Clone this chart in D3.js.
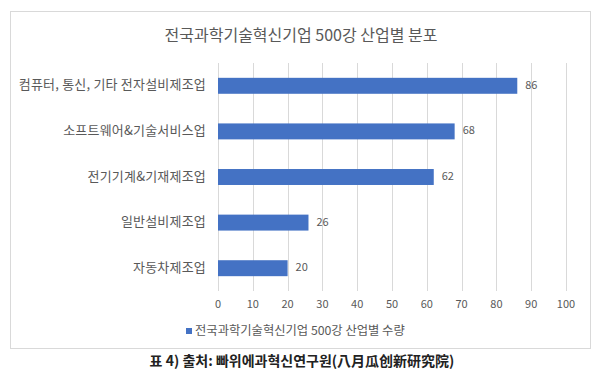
<!DOCTYPE html>
<html>
<head>
<meta charset="utf-8">
<script src="https://cdn.jsdelivr.net/npm/d3@7"></script>
<style>
  body { margin: 0; background: #fff; }
  svg text { font-family: "Noto Sans CJK KR", "Noto Sans", sans-serif; }
</style>
</head>
<body>
<svg id="vis"></svg>
<script>
// data
var categories = ["컴퓨터, 통신, 기타 전자설비제조업", "소프트웨어&기술서비스업", "전기기계&기재제조업", "일반설비제조업", "자동차제조업"];
var counts = [86, 68, 62, 26, 20];
var xTicks = [0, 10, 20, 30, 40, 50, 60, 70, 80, 90, 100];
var title = "전국과학기술혁신기업 500강 산업별 분포";
var seriesName = "전국과학기술혁신기업 500강 산업별 수량";
var caption = "표 4) 출처: 빠위에과혁신연구원(八月瓜创新研究院)";

var W = 602, H = 385;
var grey = "#595959", barColor = "#4472C4";

var svg = d3.select("#vis").attr("width", W).attr("height", H);

// chart frame
svg.append("rect")
  .attr("x", 10.5).attr("y", 11.5)
  .attr("width", 580).attr("height", 337)
  .attr("fill", "#fff").attr("stroke", "#d9d9d9");

var x = d3.scaleLinear().domain([0, 100]).range([218, 566]);
var y = d3.scaleBand().domain(categories).range([63, 291])
  .paddingInner(0.65).paddingOuter(0.325);

svg.append("text")
  .attr("x", 301).attr("y", 37)
  .attr("text-anchor", "middle").attr("dominant-baseline", "middle")
  .style("font-size", "16px").style("fill", grey)
  .text(title);

// gridlines
svg.append("g").selectAll("line")
  .data(xTicks).enter().append("line")
  .attr("x1", function(d){ return Math.round(x(d)) + 0.5; })
  .attr("x2", function(d){ return Math.round(x(d)) + 0.5; })
  .attr("y1", 63).attr("y2", 291)
  .attr("stroke", "#d9d9d9");

// x tick labels
svg.append("g").selectAll("text")
  .data(xTicks).enter().append("text")
  .attr("x", function(d){ return x(d); })
  .attr("y", 305)
  .attr("text-anchor", "middle").attr("dominant-baseline", "middle")
  .style("font-size", "11px").style("fill", grey)
  .text(function(d){ return d; });

// category labels
svg.append("g").selectAll("text")
  .data(categories).enter().append("text")
  .attr("x", 206)
  .attr("y", function(d){ return y(d) + y.bandwidth() / 2; })
  .attr("text-anchor", "end").attr("dominant-baseline", "middle")
  .style("font-size", "13px").style("letter-spacing", "0.2px").style("fill", grey)
  .text(function(d){ return d; });

// bars
svg.append("g").selectAll("rect")
  .data(counts).enter().append("rect")
  .attr("x", x(0))
  .attr("y", function(d, i){ return y(categories[i]); })
  .attr("width", function(d){ return x(d) - x(0); })
  .attr("height", y.bandwidth())
  .attr("fill", barColor);

// value labels
svg.append("g").selectAll("text")
  .data(counts).enter().append("text")
  .attr("x", function(d){ return x(d) + 8; })
  .attr("y", function(d, i){ return y(categories[i]) + y.bandwidth() / 2; })
  .attr("dominant-baseline", "middle")
  .style("font-size", "11px").style("fill", grey)
  .text(function(d){ return d; });

// legend
var legend = svg.append("g");
legend.append("rect")
  .attr("x", 186).attr("y", 328)
  .attr("width", 6).attr("height", 6)
  .attr("fill", barColor);
legend.append("text")
  .attr("x", 195).attr("y", 331.5)
  .attr("dominant-baseline", "middle")
  .style("font-size", "12.3px").style("fill", grey)
  .text(seriesName);

// caption under the frame
svg.append("text")
  .attr("x", 302).attr("y", 362)
  .attr("text-anchor", "middle").attr("dominant-baseline", "middle")
  .style("font-size", "14px").style("font-weight", "bold").style("fill", "#222")
  .text(caption);
</script>
</body>
</html>
